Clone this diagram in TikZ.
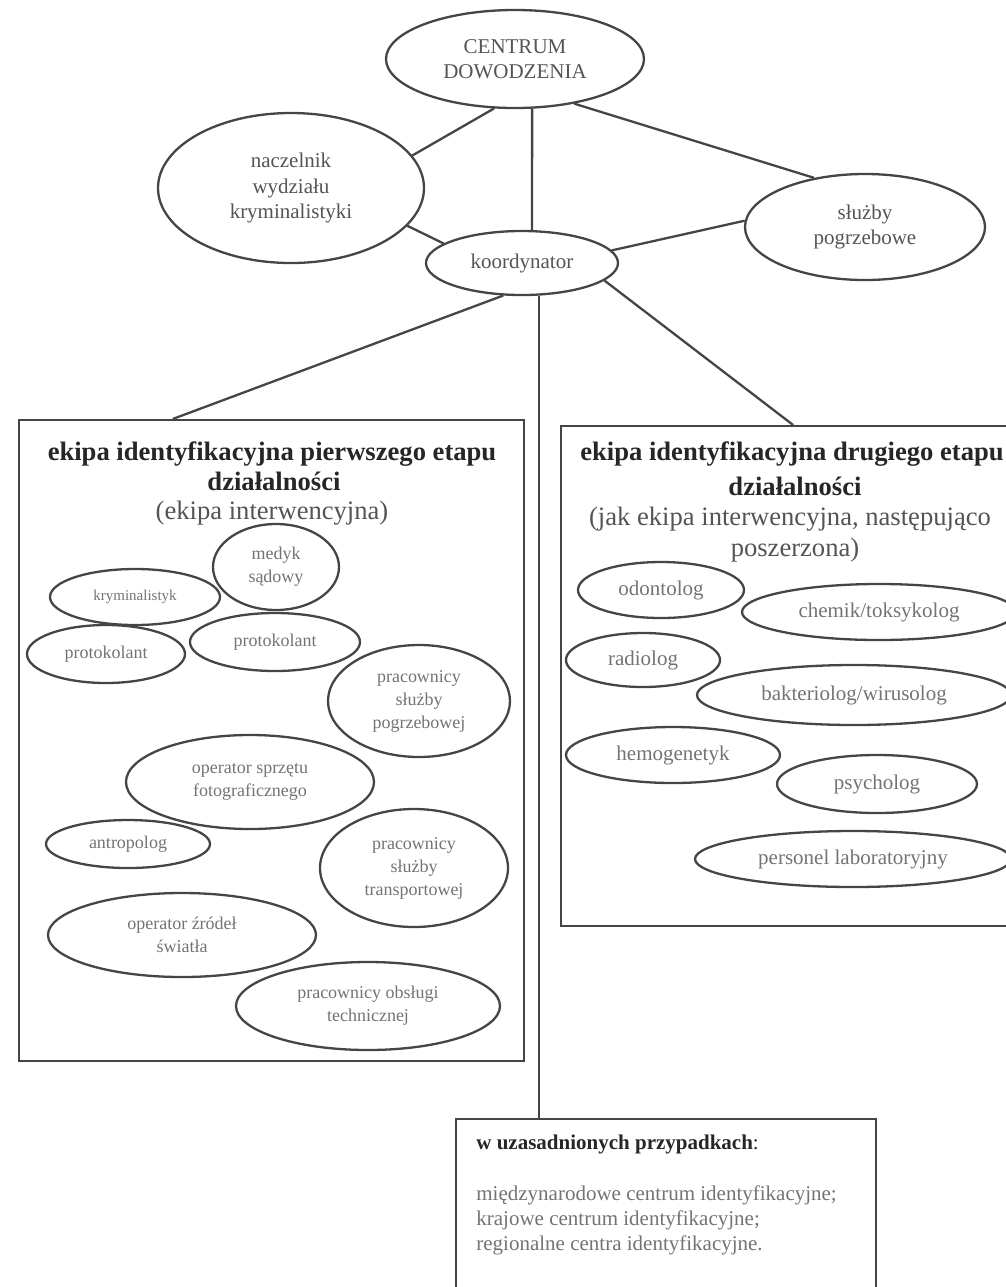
\documentclass[tikz,border=0pt]{standalone}
\usepackage{fontspec}
\setmainfont{Liberation Serif}
\usetikzlibrary{shapes.geometric,calc}
\definecolor{linecol}{gray}{0.27}
\definecolor{txtcol}{gray}{0.33}
\definecolor{lighttxt}{gray}{0.45}
\definecolor{titlecol}{gray}{0.15}
\begin{document}
\begin{tikzpicture}[x=0.5pt,y=-0.5pt,
  ell/.style={draw=linecol, line width=1.15pt, ellipse, inner sep=0pt, align=center},
  topell/.style={ell, text=txtcol, font=\fontsize{10.5}{12.75}\selectfont},
  leftell/.style={ell, text=lighttxt, font=\fontsize{9}{11.5}\selectfont},
  rightell/.style={ell, text=lighttxt, font=\fontsize{10.5}{12.5}\selectfont},
  box/.style={draw=linecol, line width=1.15pt, rectangle, inner sep=0pt, anchor=north west},
  conn/.style={draw=linecol, line width=1.15pt},
  ttl/.style={anchor=base, inner sep=0pt, text=titlecol, font=\bfseries\fontsize{13.3}{16}\selectfont},
  sub/.style={anchor=base, inner sep=0pt, text=txtcol, font=\fontsize{13.3}{16}\selectfont},
  btxt/.style={anchor=base west, inner sep=0pt, text=lighttxt, font=\fontsize{10.5}{12.5}\selectfont}]
\useasboundingbox (0,0) rectangle (1006,1287);
\clip (0,0) rectangle (1006,1287);

% top level
\node[topell, minimum width=129pt, minimum height=49pt] (cd) at (515,59) {CENTRUM\\DOWODZENIA};
\node[topell, minimum width=133pt, minimum height=75pt] (nw) at (291,188) {naczelnik\\wydziału\\kryminalistyki};
\node[topell, minimum width=120pt, minimum height=53pt] (sp) at (865,227) {służby\\pogrzebowe};
\node[topell, minimum width=96pt, minimum height=32pt] (ko) at (522,263) {koordynator};

% boxes
\node[box, minimum width=252.5pt, minimum height=320.5pt] (lb) at (18,419) {};
\node[box, minimum width=232pt, minimum height=250pt] (rb) at (560,425) {};
\node[box, minimum width=210pt, minimum height=95pt] (bb) at (455,1118) {};

% left box titles
\node[ttl] (lt1) at (272,460) {ekipa identyfikacyjna pierwszego etapu};
\node[ttl] (lt2) at (274,490) {działalności};
\node[sub] (lt3) at (272,519) {(ekipa interwencyjna)};

% right box titles
\node[ttl] (rt1) at (792,460) {ekipa identyfikacyjna drugiego etapu};
\node[ttl] (rt2) at (795,495) {działalności};
\node[sub] (rt3) at (790,525) {(jak ekipa interwencyjna, następująco};
\node[sub] (rt4) at (795,556) {poszerzona)};

% left box ellipses
\node[leftell, minimum width=63pt, minimum height=43pt] (me) at (276,567) {medyk\\sądowy};
\node[leftell, minimum width=85pt, minimum height=28pt, font=\fontsize{7.5}{9}\selectfont] (kr) at (135,597) {kryminalistyk};
\node[leftell, minimum width=79pt, minimum height=29pt] (p1) at (106,654) {protokolant};
\node[leftell, minimum width=85pt, minimum height=29pt] (p2) at (275,642) {protokolant};
\node[leftell, minimum width=91pt, minimum height=56pt] (pp) at (419,701) {pracownicy\\służby\\pogrzebowej};
\node[leftell, minimum width=124pt, minimum height=47pt] (of) at (250,782) {operator sprzętu\\fotograficznego};
\node[leftell, minimum width=82pt, minimum height=24pt] (an) at (128,844) {antropolog};
\node[leftell, minimum width=94pt, minimum height=59pt] (pt) at (414,868) {pracownicy\\służby\\transportowej};
\node[leftell, minimum width=134pt, minimum height=42pt] (oz) at (182,935) {operator źródeł\\światła};
\node[leftell, minimum width=132pt, minimum height=44pt] (po) at (368,1006) {pracownicy obsługi\\technicznej};

% right box ellipses
\node[rightell, minimum width=83pt, minimum height=28pt] (od) at (661,590) {odontolog};
\node[rightell, minimum width=137pt, minimum height=28pt] (ch) at (879,612) {chemik/toksykolog};
\node[rightell, minimum width=77pt, minimum height=27pt] (ra) at (643,660) {radiolog};
\node[rightell, minimum width=157pt, minimum height=30pt] (ba) at (854,695) {bakteriolog/wirusolog};
\node[rightell, minimum width=107pt, minimum height=28pt] (he) at (673,755) {hemogenetyk};
\node[rightell, minimum width=100pt, minimum height=29pt] (ps) at (877,784) {psycholog};
\node[rightell, minimum width=158pt, minimum height=28pt] (pl) at (853,859) {personel laboratoryjny};

% bottom box text
\node[btxt, text=titlecol] (b0) at (476,1149) {\textbf{w uzasadnionych przypadkach}:};
\node[btxt] (b1) at (476,1200) {międzynarodowe centrum identyfikacyjne;};
\node[btxt] (b2) at (476,1225) {krajowe centrum identyfikacyjne;};
\node[btxt] (b3) at (476,1250) {regionalne centra identyfikacyjne.};

% connectors
\draw[conn] (cd.247) -- (nw.15);
\draw[conn] (cd.289) -- (ko.73);
\draw[conn] (cd.323) -- (sp.136);
\draw[conn] (nw.342) -- (ko.166);
\draw[conn] (sp.177) -- (ko.8);
\draw[conn] (ko.240) -- ($(lb.north west)!0.305!(lb.north east)$);
\draw[conn] (ko.348) -- (rb.north);
\draw[conn] (ko.298) -- (ko.298 |- bb.north);
\end{tikzpicture}
\end{document}
